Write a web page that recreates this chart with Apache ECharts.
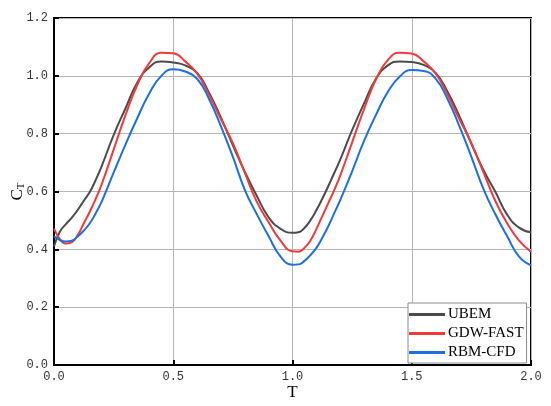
<!DOCTYPE html>
<html>
<head>
<meta charset="utf-8">
<script src="https://cdn.jsdelivr.net/npm/echarts@6/dist/echarts.min.js"></script>
<style>html,body{margin:0;padding:0;background:#fff}#c{width:551px;height:406px}</style>
</head>
<body>
<div id="c"></div>
<script>
var T = [0, 0.025, 0.05, 0.075, 0.1, 0.125, 0.15, 0.175, 0.2, 0.25, 0.3, 0.35, 0.4, 0.45, 0.5, 0.55, 0.6, 0.65, 0.7, 0.75, 0.8, 0.85, 0.9, 0.95, 1.0,
         1.025, 1.05, 1.075, 1.1, 1.125, 1.15, 1.175, 1.2, 1.25, 1.3, 1.35, 1.4, 1.45, 1.5, 1.55, 1.6, 1.65, 1.7, 1.75, 1.8, 1.85, 1.9, 1.95, 2.0];
var UBEM = [0.41, 0.462, 0.487, 0.51, 0.537, 0.568, 0.598, 0.64, 0.688, 0.795, 0.888, 0.978, 1.03, 1.05, 1.046, 1.036, 1.01, 0.942, 0.855, 0.76, 0.668, 0.585, 0.511, 0.471, 0.457,
            0.459, 0.474, 0.5, 0.535, 0.575, 0.618, 0.664, 0.71, 0.812, 0.905, 0.99, 1.036, 1.05, 1.048, 1.038, 1.01, 0.945, 0.86, 0.765, 0.675, 0.6, 0.52, 0.475, 0.459];
var GDW = [0.472, 0.435, 0.42, 0.425, 0.45, 0.49, 0.53, 0.575, 0.625, 0.745, 0.865, 0.97, 1.045, 1.08, 1.078, 1.05, 1.008, 0.935, 0.85, 0.767, 0.665, 0.565, 0.494, 0.43, 0.393,
           0.392, 0.405, 0.43, 0.47, 0.515, 0.56, 0.605, 0.655, 0.77, 0.885, 0.988, 1.055, 1.08, 1.077, 1.05, 1.008, 0.935, 0.85, 0.767, 0.668, 0.568, 0.49, 0.43, 0.392];
var RBM = [0.445, 0.432, 0.427, 0.43, 0.445, 0.465, 0.49, 0.525, 0.565, 0.665, 0.763, 0.855, 0.94, 1.0, 1.023, 1.015, 0.99, 0.92, 0.825, 0.72, 0.606, 0.522, 0.445, 0.375, 0.347,
           0.348, 0.36, 0.38, 0.405, 0.44, 0.48, 0.525, 0.57, 0.67, 0.775, 0.865, 0.945, 0.998, 1.02, 1.017, 0.99, 0.92, 0.825, 0.72, 0.61, 0.522, 0.445, 0.375, 0.345];
var seriesNames = ['UBEM', 'GDW-FAST', 'RBM-CFD'];
var seriesColors = ['#4b4b4b', '#f03a3c', '#1b6fe0'];

function pairs(ys) { return T.map(function (t, i) { return [t, ys[i]]; }); }
var allData = [UBEM, GDW, RBM];

var chart = echarts.init(document.getElementById('c'), null, {renderer: 'canvas'});
var serifFont = 'Liberation Serif';
chart.setOption({
  animation: false,
  backgroundColor: '#fff',
  grid: {left: 54, right: 20, top: 18, bottom: 41, outerBoundsMode: 'none', containLabel: false,
         show: true, borderColor: '#000', borderWidth: 2, backgroundColor: 'transparent'},
  xAxis: {
    type: 'value', min: 0, max: 2, interval: 0.5,
    name: 'T', nameLocation: 'middle', nameGap: 19, nameMoveOverlap: false,
    nameTextStyle: {fontFamily: serifFont, fontSize: 17, color: '#000'},
    axisLine: {show: true, lineStyle: {color: '#000', width: 2}},
    axisTick: {show: true, inside: true, length: 5, lineStyle: {color: '#000', width: 2}},
    axisLabel: {fontFamily: 'Liberation Mono', fontSize: 12, color: '#333', margin: 6, formatter: function (v) { return v.toFixed(1); }},
    splitLine: {show: true, lineStyle: {color: '#b4b4b4', width: 1}}
  },
  yAxis: {
    type: 'value', min: 0, max: 1.2, interval: 0.2,
    name: '{c|C}{s|T}', nameLocation: 'middle', nameGap: 27, nameRotate: 90, nameMoveOverlap: false,
    nameTextStyle: {rich: {c: {fontFamily: serifFont, fontSize: 17, color: '#000'}, s: {fontFamily: serifFont, fontSize: 11, color: '#000', verticalAlign: 'bottom', padding: [8, 0, 0, 0]}}},
    axisLine: {show: true, lineStyle: {color: '#000', width: 2}},
    axisTick: {show: true, inside: true, length: 5, lineStyle: {color: '#000', width: 2}},
    axisLabel: {fontFamily: 'Liberation Mono', fontSize: 12, color: '#333', margin: 6, formatter: function (v) { return v.toFixed(1); }},
    splitLine: {show: true, lineStyle: {color: '#b4b4b4', width: 1}}
  },
  legend: {
    orient: 'vertical', left: 408, top: 303,
    backgroundColor: '#fff', borderColor: '#8a8a8a', borderWidth: 1,
    padding: [4, 3, 3, 1], itemGap: 4, itemWidth: 36, itemHeight: 3, icon: 'rect',
    textStyle: {fontFamily: serifFont, fontSize: 15, color: '#000', padding: [0, 0, 0, -2]},
    data: seriesNames
  },
  series: seriesNames.map(function (n, i) {
    return {
      name: n, type: 'line', data: pairs(allData[i]), showSymbol: false, symbol: 'none',
      smooth: 0.5,
      lineStyle: {color: seriesColors[i], width: 2}, itemStyle: {color: seriesColors[i]}
    };
  })
});
</script>
</body>
</html>
